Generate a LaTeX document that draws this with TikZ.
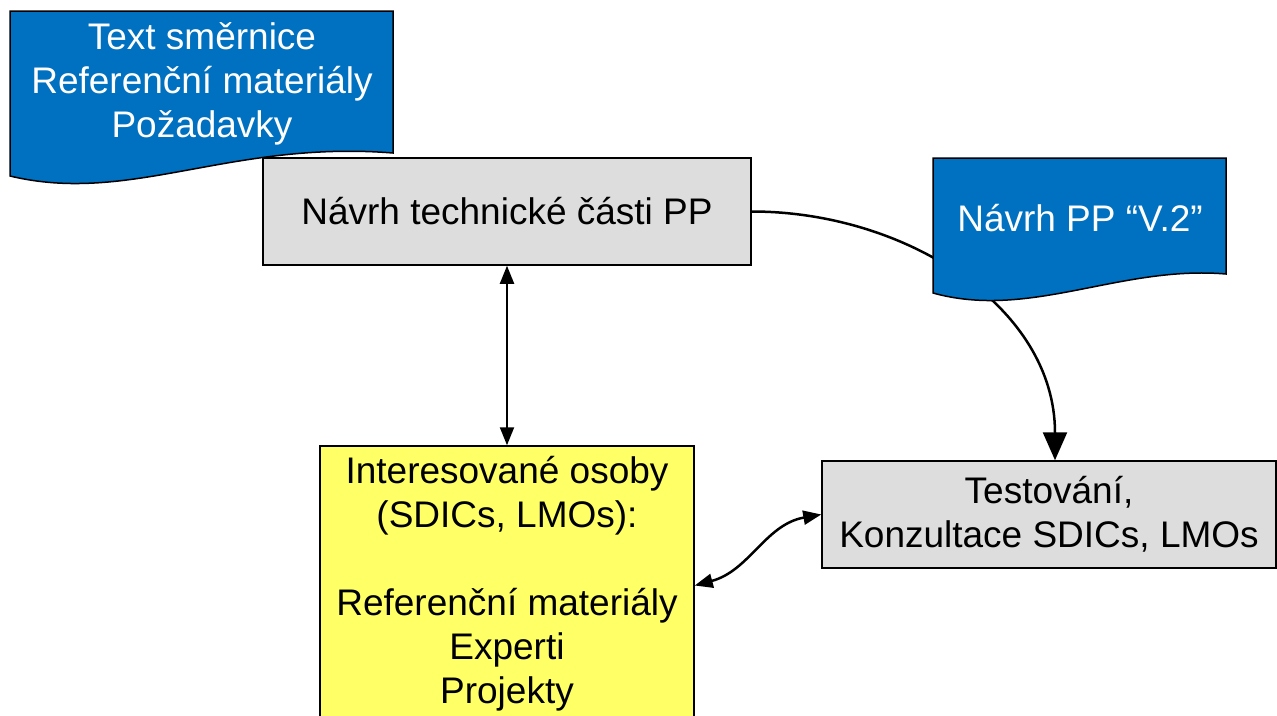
\documentclass[tikz,border=0pt]{standalone}
\usepackage{fontspec}
\setmainfont{Liberation Sans}
\usetikzlibrary{arrows.meta}
\definecolor{docblue}{HTML}{0070C0}
\definecolor{boxgray}{HTML}{DDDDDD}
\definecolor{noteyellow}{HTML}{FFFF66}
\tikzset{
    graybox/.style={draw=black, line width=1.5pt, fill=boxgray, minimum height=107pt, inner sep=0pt, align=center},
    doctext/.style={text=white, align=center, inner sep=0pt},
    docfill/.style={fill=docblue, draw=black, line width=1.5pt},
    smalltip/.style={{Triangle[width=14pt,length=18pt]}-{Triangle[width=14pt,length=18pt]}, line width=2pt},
}
\begin{document}
\begin{tikzpicture}[x=1pt, y=-1pt, font=\fontsize{37}{44}\selectfont]
    \useasboundingbox (0,0) rectangle (1277,715);
    \clip (0,0) rectangle (1277,715);
    \filldraw[docfill] (10,11) -- (393,11) -- (393,153) .. controls (230,140) and (130,205) .. (10,176) -- cycle;
    \node[doctext] (doc1) at (202,84) {Text směrnice\\Referenční materiály\\Požadavky};
    \node[graybox, minimum width=488pt] (navrh) at (507,211.5) {Návrh technické části PP};
    \node[graybox, minimum width=454pt] (test) at (1049,514.5) {Testování,\\Konzultace SDICs, LMOs};
    \node[draw=black, line width=1.5pt, fill=noteyellow, minimum width=374pt, minimum height=275pt, inner sep=0pt, align=center] (osoby) at (507,583.5)
        {Interesované osoby\\(SDICs, LMOs):\\~\\Referenční materiály\\Experti\\Projekty};
    \draw[smalltip] (navrh.south) -- (osoby.north);
    \draw[-{Triangle[width=24pt,length=28pt]}, line width=2.5pt] (navrh.east) to[out=0, in=90] ([xshift=6pt]test.north);
    \filldraw[docfill] (933,158) -- (1226,158) -- (1226,274) .. controls (1120,265) and (1030,320) .. (933,293) -- cycle;
    \node[doctext] (doc2) at (1080,218) {Návrh PP “V.2”};
    \draw[smalltip, line width=2.5pt] ([yshift=-2pt]osoby.east) to[out=15, in=190] (test.west);
\end{tikzpicture}
\end{document}
